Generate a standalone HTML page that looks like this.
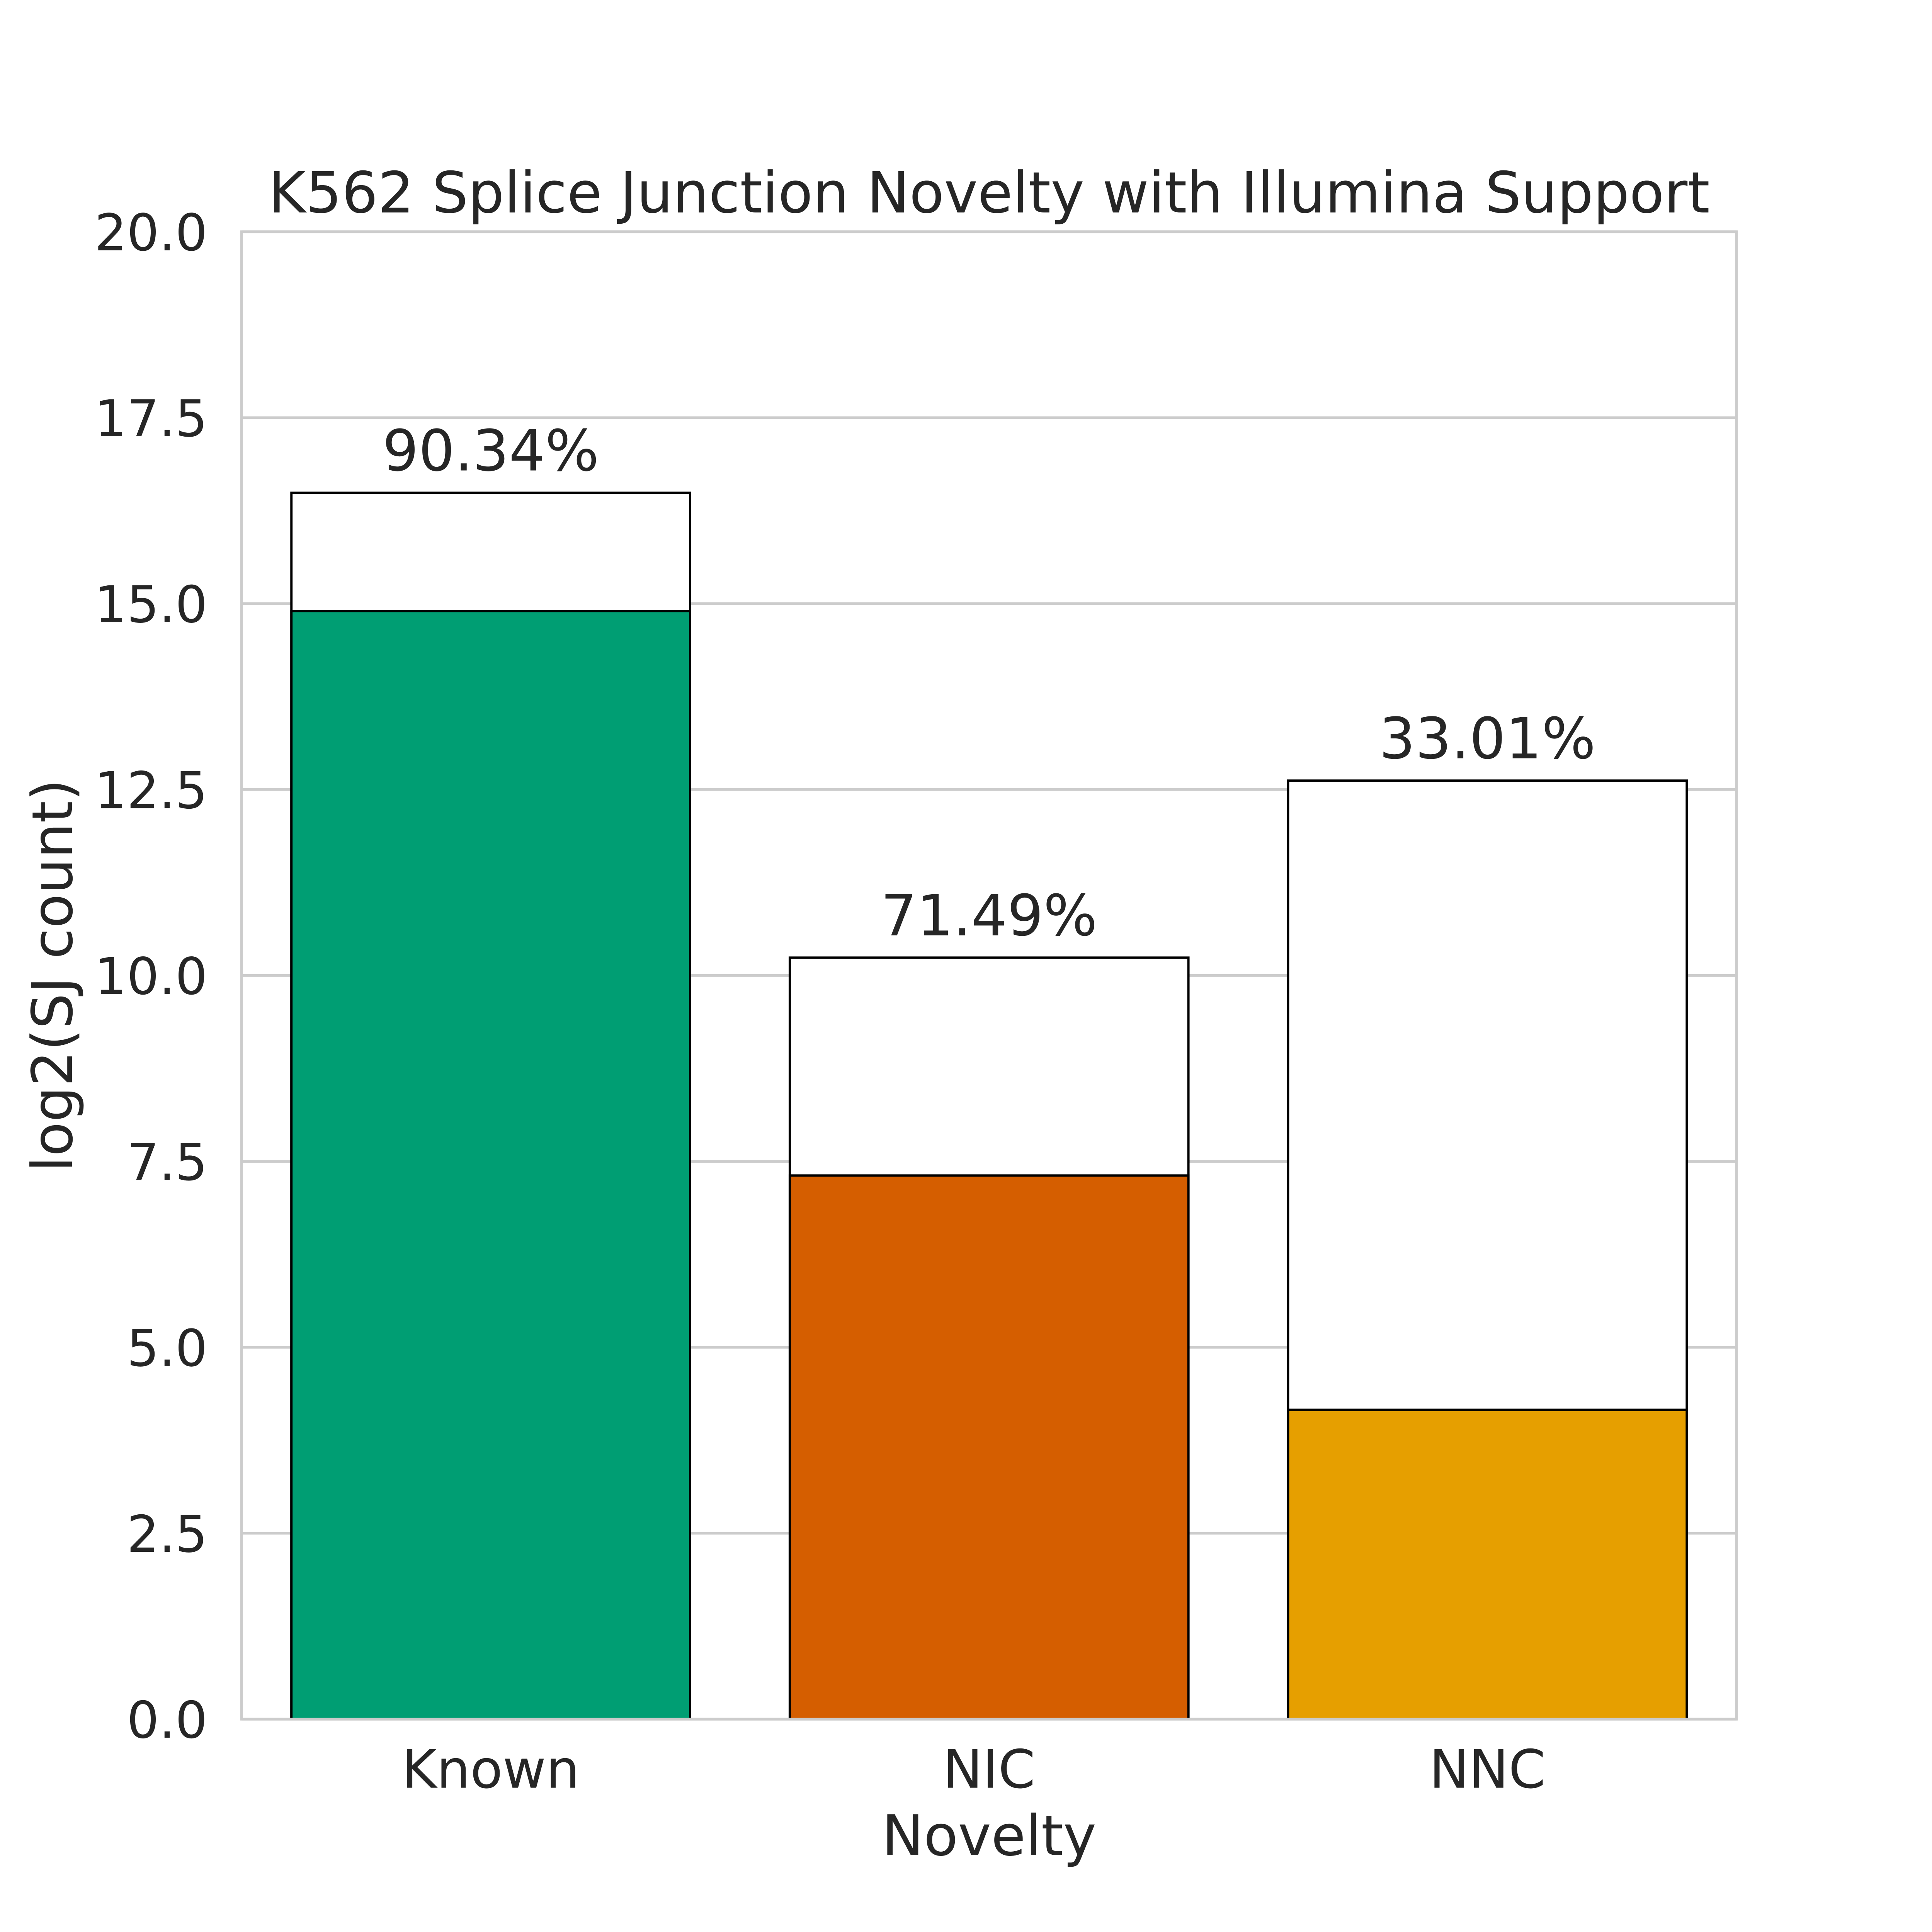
<!DOCTYPE html>
<html><head><meta charset="utf-8"><style>
html,body{margin:0;padding:0;background:#fff;overflow:hidden;width:5100px;height:5100px;}
svg{display:block;}
svg text{font-family:"DejaVu Sans","Liberation Sans",sans-serif;fill:#262626;}
</style></head><body>
<svg id="chart" width="5100" height="5100" viewBox="0 0 5100 5100" xmlns="http://www.w3.org/2000/svg">
<rect width="5100" height="5100" fill="#fff"/>
<g transform="scale(0.98)">
<g id="grid"></g>
<g id="bars"></g>
<g id="yticks"></g>
<g id="xticks"></g>
<rect x="638" y="612" width="3948" height="3928" fill="none" stroke="#cccccc" stroke-width="7"/>
<text x="2612" y="561" font-size="150" text-anchor="middle">K562 Splice Junction Novelty with Illumina Support</text>
<text x="2612" y="4899" font-size="148" text-anchor="middle">Novelty</text>
<text transform="translate(190,2576) rotate(-90)" font-size="148" text-anchor="middle">log2(SJ count)</text>
</g>
</svg>
<script>
const categories = ["Known", "NIC", "NNC"];
const totalValues = [16.49, 10.24, 12.62];
const supportedValues = [14.90, 7.31, 4.16];
const percentLabels = ["90.34%", "71.49%", "33.01%"];
const yTicks = [0, 2.5, 5, 7.5, 10, 12.5, 15, 17.5, 20];
const barColors = ["#009e73", "#d55e00", "#e69f00"];

const NS = "http://www.w3.org/2000/svg";
const L = 638, R = 4586, T = 612, B = 4540, YMAX = 20;
const band = (R - L) / categories.length;
const y = v => B - (v / YMAX) * (B - T);
const xc = i => L + band * (i + 0.5);
const bw = band * 0.8;
function mk(tag, attrs, parent) {
  const e = document.createElementNS(NS, tag);
  for (const k in attrs) e.setAttribute(k, attrs[k]);
  parent.appendChild(e);
  return e;
}
const grid = document.getElementById("grid");
const yt = document.getElementById("yticks");
yTicks.forEach(v => {
  const ln = mk("line", {x1: L, x2: R, y1: y(v), y2: y(v), stroke: "#cccccc", "stroke-width": 7}, grid);
  
  
  const t = mk("text", {x: 548, y: y(v) + 49, "font-size": 134, "text-anchor": "end"}, yt);
  t.textContent = v.toFixed(1);
  
  
});
const bars = document.getElementById("bars");
const xt = document.getElementById("xticks");
categories.forEach((c, i) => {
  const x0 = xc(i) - bw / 2;
  const tb = mk("rect", {x: x0, y: y(totalValues[i]), width: bw, height: B - y(totalValues[i]), fill: "#ffffff", stroke: "#000", "stroke-width": 6}, bars);
  
  
  const sb = mk("rect", {x: x0, y: y(supportedValues[i]), width: bw, height: B - y(supportedValues[i]), fill: barColors[i], stroke: "#000", "stroke-width": 6}, bars);
  
  
  const pl = mk("text", {x: xc(i), y: y(totalValues[i]) - 59, "font-size": 150, "text-anchor": "middle"}, bars);
  pl.textContent = percentLabels[i];
  
  
  const t = mk("text", {x: xc(i), y: 4721, "font-size": 140, "text-anchor": "middle"}, xt);
  t.textContent = c;
  
  
});
</script>
</body></html>
